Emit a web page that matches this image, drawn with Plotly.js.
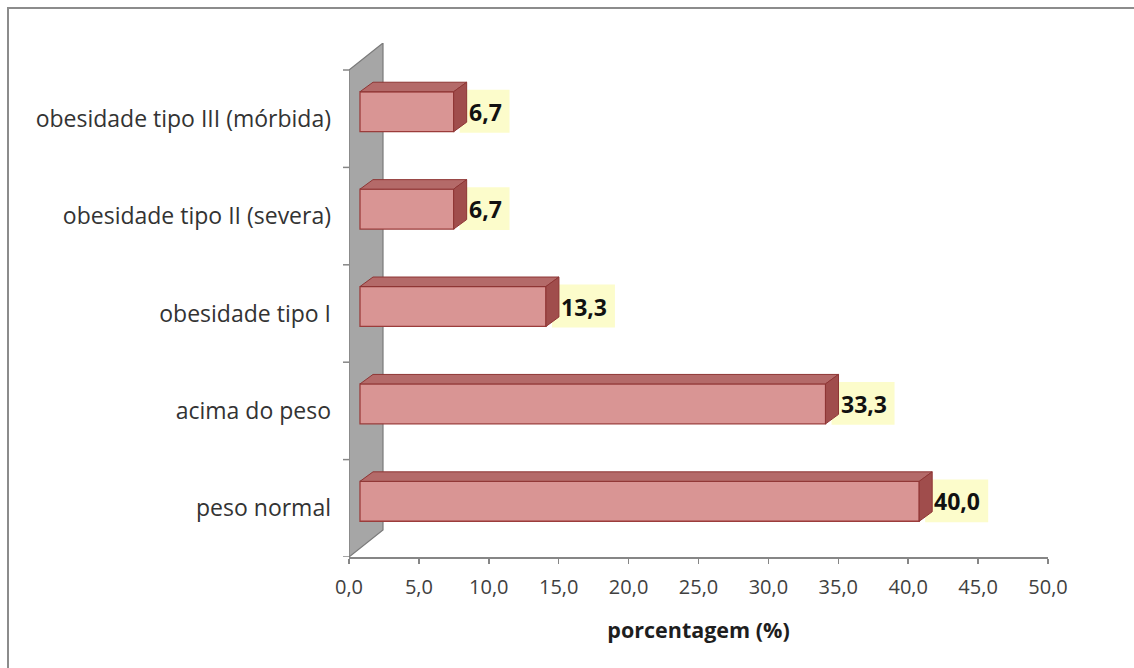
<!DOCTYPE html>
<html>
<head>
<meta charset="utf-8">
<script src="https://cdn.plot.ly/plotly-3.0.1.min.js"></script>
<style>
  html, body { margin: 0; padding: 0; background: #ffffff; overflow: hidden; width: 1134px; height: 668px; }
  #frame { position: absolute; left: 7px; top: 7px; width: 1140px; height: 700px;
           border-left: 2px solid #8c8c8c; border-top: 2px solid #8c8c8c; box-sizing: border-box; }
  #chart { position: absolute; left: 0; top: 0; width: 1134px; height: 668px; }
</style>
</head>
<body>
<div id="frame"></div>
<div id="chart"></div>
<script>
// ---- data ----
const categories = [
  "peso normal",
  "acima do peso",
  "obesidade tipo I",
  "obesidade tipo II (severa)",
  "obesidade tipo III (mórbida)"
];
const values = [40.0, 33.3, 13.3, 6.7, 6.7];
const valueLabels = ["40,0", "33,3", "13,3", "6,7", "6,7"];
const xTickValues = [0, 5, 10, 15, 20, 25, 30, 35, 40, 45, 50];

// ---- geometry (styling) ----
const FIG_W = 1134, FIG_H = 668;
const M_L = 349, M_T = 43, M_B = 111;
const AXIS_W = 699;                  // px from 0 to 50
const M_R = FIG_W - M_L - AXIS_W;
const PH = FIG_H - M_T - M_B;        // 514 px plot height
const X_MAX = 50;
const pxPerX = AXIS_W / X_MAX;
const CAT_PX = 97.4;                 // px per category
const WALL_DX_PX = 34, WALL_DY_PX = 27;
const yTop = PH / CAT_PX - 0.5;
const pxPerY = PH / (yTop + 0.5);
const BAR_SHIFT_X = 11, BAR_SHIFT_Y = 7;
const sx = BAR_SHIFT_X / pxPerX, sy = BAR_SHIFT_Y / pxPerY;
const DEPTH_DX = 13 / pxPerX, DEPTH_DY = 9.5 / pxPerY;
const HALF = 0.205;
const wallDX = WALL_DX_PX / pxPerX, wallDY = WALL_DY_PX / pxPerY;
const LABEL_FONT_SIZE = 23;

const idx = categories.map((c, i) => i);

// measure label text widths
const cv = document.createElement('canvas').getContext('2d');
cv.font = 'bold ' + LABEL_FONT_SIZE + 'px "Open Sans"';
const labelW = valueLabels.map(t => cv.measureText(t).width);

const shapes = [];
// back wall
shapes.push({
  type: 'path', xref: 'x', yref: 'y', layer: 'below',
  path: `M0,-0.5 L0,${categories.length - 0.5} L${wallDX},${categories.length - 0.5 + wallDY} L${wallDX},${-0.5 + wallDY} Z`,
  fillcolor: '#a6a6a6', line: { color: '#7a7a7a', width: 1.2 }
});
// label boxes
values.forEach((v, i) => {
  shapes.push({
    type: 'rect', xref: 'x2', yref: 'y2', xsizemode: 'pixel', xanchor: v,
    x0: 6, x1: 14 + labelW[i] + 9, y0: i - HALF - 0.01, y1: i + HALF + 0.02,
    fillcolor: '#fcfccb', line: { width: 0 }
  });
});
// 3D faces of bars
values.forEach((v, i) => {
  const t = i + HALF, b = i - HALF;
  shapes.push({
    type: 'path', xref: 'x2', yref: 'y2',
    path: `M0,${t} L${v},${t} L${v + DEPTH_DX},${t + DEPTH_DY} L${DEPTH_DX},${t + DEPTH_DY} Z`,
    fillcolor: '#b46a69', line: { color: '#8e3534', width: 1 }
  });
  shapes.push({
    type: 'path', xref: 'x2', yref: 'y2',
    path: `M${v},${b} L${v},${t} L${v + DEPTH_DX},${t + DEPTH_DY} L${v + DEPTH_DX},${b + DEPTH_DY} Z`,
    fillcolor: '#a04d4c', line: { color: '#8e3534', width: 1 }
  });
});

const annotations = values.map((v, i) => ({
  xref: 'x2', yref: 'y2', x: v, y: i,
  xanchor: 'left', yanchor: 'middle', xshift: 14, showarrow: false,
  text: '<b>' + valueLabels[i] + '</b>',
  font: { family: 'Open Sans, sans-serif', size: LABEL_FONT_SIZE, color: '#111111' },
  borderpad: 0
}));

const trace = {
  type: 'bar', orientation: 'h',
  x: values, y: idx,
  xaxis: 'x2', yaxis: 'y2',
  width: 2 * HALF,
  marker: { color: '#d99594', line: { color: '#9b3c3b', width: 1.3 } },
  hoverinfo: 'skip'
};
// invisible trace anchoring the main axes
const anchor = {
  type: 'scatter', mode: 'markers', x: [0], y: [0], marker: { opacity: 0 }, hoverinfo: 'skip', showlegend: false
};

const layout = {
  width: FIG_W, height: FIG_H,
  margin: { l: M_L, r: M_R, t: M_T, b: M_B, pad: 0 },
  paper_bgcolor: 'rgba(0,0,0,0)', plot_bgcolor: 'rgba(0,0,0,0)',
  separators: ',.',
  showlegend: false,
  font: { family: 'Open Sans, sans-serif', color: '#3a3a3a' },
  xaxis: {
    range: [0, X_MAX],
    tickvals: xTickValues, tickformat: '.1f',
    ticks: 'outside', ticklen: 5, tickcolor: '#868686', tickwidth: 1.5,
    ticklabelstandoff: 6,
    showline: true, linecolor: '#868686', linewidth: 1.5,
    showgrid: false, zeroline: false,
    tickfont: { size: 20, color: '#404040' },
    title: { text: '<b>porcentagem (%)</b>', font: { size: 21.5, color: '#1e1e1e' }, standoff: 24 },
    fixedrange: true
  },
  yaxis: {
    range: [-0.5, yTop],
    tickvals: idx, ticktext: categories,
    ticks: '', showline: false, showgrid: false, zeroline: false,
    tickfont: { size: 23, color: '#333333' },
    ticklabelstandoff: 17,
    fixedrange: true
  },
  xaxis2: {
    overlaying: 'x', anchor: 'y2',
    range: [-sx, X_MAX - sx],
    visible: false, fixedrange: true
  },
  yaxis2: {
    overlaying: 'y', anchor: 'x2',
    range: [-0.5 - sy, yTop - sy],
    visible: false, fixedrange: true
  },
  shapes: shapes,
  annotations: annotations
};

// y-axis boundary ticks (category separators)
for (let k = 0; k <= categories.length; k++) {
  layout.shapes.push({
    type: 'line', xref: 'paper', yref: 'y', layer: 'below',
    x0: -6 / AXIS_W, x1: 0, y0: k - 0.5, y1: k - 0.5,
    line: { color: '#868686', width: 1.5 }
  });
}

Plotly.newPlot('chart', [anchor, trace], layout, { displayModeBar: false, staticPlot: true });
</script>
</body>
</html>
